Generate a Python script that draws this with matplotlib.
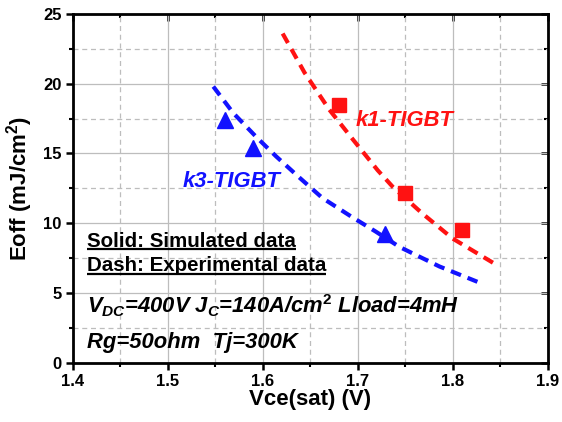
import numpy as np
import matplotlib
matplotlib.use("Agg")
import matplotlib.pyplot as plt
from matplotlib.ticker import MultipleLocator, NullFormatter

plt.rcParams["font.family"] = ["Liberation Sans", "DejaVu Sans"]
plt.rcParams["font.weight"] = "bold"
plt.rcParams["mathtext.fontset"] = "custom"
plt.rcParams["mathtext.rm"] = "Liberation Sans:bold"
plt.rcParams["mathtext.bf"] = "Liberation Sans:bold"
plt.rcParams["mathtext.it"] = "Liberation Sans:bold:italic"
plt.rcParams["mathtext.bfit"] = "Liberation Sans:bold:italic"

# ── Data ─────────────────────────────────────────────────────────────────────
# simulated points (markers)
k1_sim_x = [1.68, 1.75, 1.81]
k1_sim_y = [18.5, 12.2, 9.5]
k3_sim_x = [1.56, 1.59, 1.729]
k3_sim_y = [17.4, 15.4, 9.2]

# experimental data (dashed curves)
k1_exp_x = [1.621, 1.644, 1.670, 1.695, 1.721, 1.737, 1.768, 1.800, 1.844]
k1_exp_y = [23.6, 20.8, 18.15, 16.0, 13.8, 12.6, 10.7, 8.9, 7.1]
k3_exp_x = [1.548, 1.569, 1.593, 1.614, 1.639, 1.663, 1.695, 1.719, 1.744, 1.786, 1.826]
k3_exp_y = [19.8, 17.9, 16.2, 14.8, 13.25, 11.8, 10.4, 9.4, 8.3, 6.9, 5.8]

RED = "#ff1212"
BLUE = "#1212ff"
DASH = (0, (2.6, 1.7))

fig = plt.figure(figsize=(5.62, 4.22), dpi=100)
ax = fig.add_axes([72.7 / 562, 1 - 362.7 / 422, 475 / 562, 348.7 / 422])

ax.plot(k1_exp_x, k1_exp_y, ls=DASH, color=RED, lw=3.0)
ax.plot(k3_exp_x, k3_exp_y, ls=DASH, color=BLUE, lw=3.0)
ax.plot(k1_sim_x, k1_sim_y, "s", color=RED, ms=9.5, ls="none")
ax.plot(k3_sim_x, k3_sim_y, "^", color=BLUE, ms=12, ls="none")

ax.set_xlim(1.4, 1.9)
ax.set_ylim(0, 25)
ax.xaxis.set_major_locator(MultipleLocator(0.1))
ax.xaxis.set_minor_locator(MultipleLocator(0.05))
ax.yaxis.set_major_locator(MultipleLocator(5))
ax.yaxis.set_minor_locator(MultipleLocator(2.5))
ax.grid(which="major", color="#bdbdbd", lw=0.9, ls="-")
ax.grid(which="minor", color="#bdbdbd", lw=0.9, ls=(0, (4, 3)))
ax.set_axisbelow(True)

ax.tick_params(which="major", direction="out", length=5, width=1.8, labelsize=12, pad=3)
ax.tick_params(which="minor", direction="out", length=3, width=1.5)
for s in ax.spines.values():
    s.set_linewidth(2.0)
for lab in ax.get_xticklabels() + ax.get_yticklabels():
    lab.set_fontweight("bold")

# inward ticks on top and right
top = ax.secondary_xaxis("top")
top.xaxis.set_major_locator(MultipleLocator(0.1))
top.xaxis.set_minor_locator(MultipleLocator(0.05))
right = ax.secondary_yaxis("right")
right.yaxis.set_major_locator(MultipleLocator(5))
right.yaxis.set_minor_locator(MultipleLocator(2.5))
for sec in (top, right):
    sec.tick_params(which="major", direction="in", length=5, width=1.8)
    sec.tick_params(which="minor", direction="in", length=3, width=1.5)
top.xaxis.set_major_formatter(NullFormatter())
right.yaxis.set_major_formatter(NullFormatter())

ax.set_xlabel("Vce(sat) (V)", fontsize=16, fontweight="bold", labelpad=0)
ax.set_ylabel("Eoff (mJ/cm$^2$)", fontsize=16, fontweight="bold", labelpad=6)

ax.text(1.698, 17.0, "k1-TIGBT", color=RED, fontsize=15.8, fontweight="bold",
        style="italic", va="baseline")
ax.text(1.516, 12.6, "k3-TIGBT", color=BLUE, fontsize=15.8, fontweight="bold",
        style="italic", va="baseline")

t1 = ax.text(1.415, 8.33, "Solid: Simulated data", fontsize=14.8, fontweight="bold",
             va="baseline")
t2 = ax.text(1.415, 6.54, "Dash: Experimental data", fontsize=14.8, fontweight="bold",
             va="baseline")

ax.text(1.415, 3.55,
        "$V_{DC}$=400V $J_C$=140A/cm$^2$ Lload=4mH",
        fontsize=15.8, fontweight="bold", style="italic", va="baseline")
ax.text(1.415, 1.03, "Rg=50ohm  Tj=300K", fontsize=15.8, fontweight="bold",
        style="italic", va="baseline")

# underline the two legend notes
fig.canvas.draw()
inv = ax.transData.inverted()
for t, yu in ((t1, 8.12), (t2, 6.33)):
    bb = t.get_window_extent()
    x0 = inv.transform((bb.x0, bb.y0))[0]
    x1 = inv.transform((bb.x1, bb.y0))[0]
    ax.plot([x0, x1], [yu, yu], color="black", lw=1.6, solid_capstyle="butt")

fig.savefig("out.png", dpi=100)
